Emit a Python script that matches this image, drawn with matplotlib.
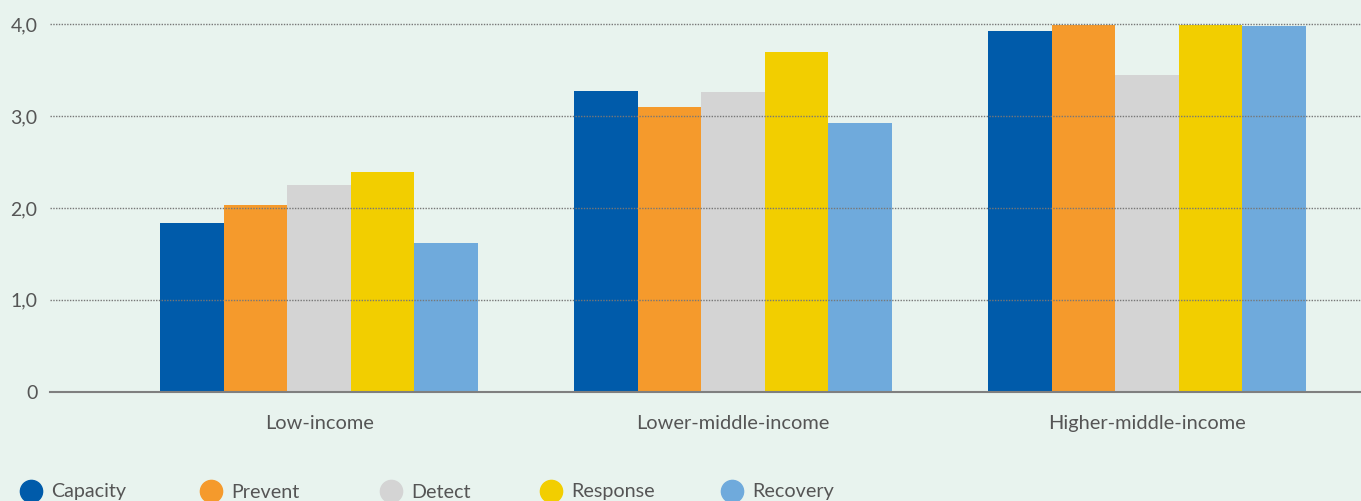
import matplotlib
matplotlib.use("Agg")
import matplotlib.pyplot as plt
from matplotlib.lines import Line2D
import numpy as np

categories = ["Low-income", "Lower-middle-income", "Higher-middle-income"]
series_names = ["Capacity", "Prevent", "Detect", "Response", "Recovery"]
capacity = [1.84, 3.27, 3.93]
prevent = [2.03, 3.10, 3.99]
detect = [2.25, 3.26, 3.45]
response = [2.39, 3.70, 3.99]
recovery = [1.62, 2.92, 3.98]
y_ticks = [0, 1, 2, 3, 4]
y_tick_labels = ["0", "1,0", "2,0", "3,0", "4,0"]

colors = ["#005BAA", "#F59A2C", "#D4D4D4", "#F2CE00", "#6FAADC"]
bg = "#E8F3EE"
text_color = "#555555"
font = "Lato"

values = [capacity, prevent, detect, response, recovery]

W, H = 1361, 501
fig = plt.figure(figsize=(W / 100, H / 100), dpi=100, facecolor=bg)
ax = fig.add_axes([50 / W, (H - 391.7) / H, 1 - 50 / W, (391.7 - 15.1) / H])
ax.set_facecolor(bg)

x = np.arange(len(categories))
bw = 0.1536
for i, (name, vals, c) in enumerate(zip(series_names, values, colors)):
    ax.bar(x + (i - 2) * bw, vals, width=bw, color=c, zorder=2, linewidth=0)

ax.set_xlim(-0.65, 2.517)
ax.set_ylim(0, 4.1)
ax.set_yticks(y_ticks)
ax.set_yticklabels(y_tick_labels, fontfamily=font, fontsize=14, color=text_color)
ax.set_xticks(x)
ax.set_xticklabels(categories, fontfamily=font, fontsize=14.4, color=text_color)
ax.tick_params(axis="y", length=0, pad=9)
ax.tick_params(axis="x", length=0, pad=17)

for t in y_ticks[1:]:
    ax.axhline(t, color="#777777", linestyle=(0, (1, 1)), linewidth=1.0, zorder=3)

for s in ["top", "right", "left"]:
    ax.spines[s].set_visible(False)
ax.spines["bottom"].set_color("#7F7F7F")
ax.spines["bottom"].set_linewidth(1.5)
ax.spines["bottom"].set_zorder(4)

legend_x = [21, 201, 381, 541, 722]
for name, c, lx in zip(series_names, colors, legend_x):
    h = Line2D([], [], marker="o", linestyle="none", markersize=16,
               markerfacecolor=c, markeredgecolor=c)
    leg = fig.legend([h], [name], loc="center left",
                     bbox_to_anchor=(lx / W, (H - 492) / H),
                     frameon=False, handlelength=1.0, handletextpad=0.55,
                     borderpad=0, borderaxespad=0,
                     prop={"family": font, "size": 14.2})
    for t in leg.get_texts():
        t.set_color(text_color)

fig.savefig("out.png", dpi=100, facecolor=bg)
